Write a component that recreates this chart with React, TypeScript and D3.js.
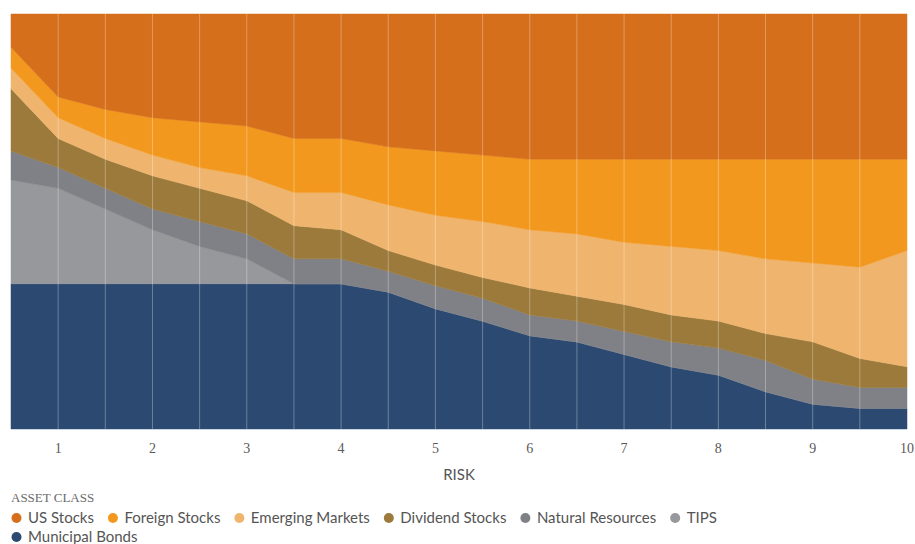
import React from "react";
import * as d3 from "d3";

const risk = [0.5, 1, 1.5, 2, 2.5, 3, 3.5, 4, 4.5, 5, 5.5, 6, 6.5, 7, 7.5, 8, 8.5, 9, 9.5, 10];
const tickValues = [1, 2, 3, 4, 5, 6, 7, 8, 9, 10];

const municipalBonds = [35, 35, 35, 35, 35, 35, 35, 35, 33, 29, 26, 22.5, 21, 18, 15, 13, 9, 6, 5, 5];
const tips = [25, 23, 18, 13, 9, 6, 0, 0, 0, 0, 0, 0, 0, 0, 0, 0, 0, 0, 0, 0];
const naturalResources = [7, 5, 5, 5, 6, 6, 6, 6, 5, 5.5, 5.5, 5, 5, 5.5, 6, 6.5, 7.5, 6, 5, 5];
const dividendStocks = [15, 7, 7, 8, 8, 8, 8, 7, 5, 5, 5, 6.5, 6, 6.5, 6.5, 6.5, 6.5, 9, 7, 5];
const emergingMarkets = [5, 5, 5, 5, 5, 6, 8, 9, 11, 12, 13.5, 14, 15, 15, 16.5, 17, 18, 19, 22, 28];
const foreignStocks = [5, 5, 7, 9, 11, 12, 13, 13, 14, 15.5, 16, 17, 18, 20, 21, 22, 24, 25, 26, 22];
const usStocks = [8, 20, 23, 25, 26, 27, 30, 30, 32, 33, 34, 35, 35, 35, 35, 35, 35, 35, 35, 35];

// bottom-up stacking order
const seriesNames = [
  "Municipal Bonds",
  "TIPS",
  "Natural Resources",
  "Dividend Stocks",
  "Emerging Markets",
  "Foreign Stocks",
  "US Stocks",
];
const seriesValues = [municipalBonds, tips, naturalResources, dividendStocks, emergingMarkets, foreignStocks, usStocks];
const seriesColors = ["#2C4A71", "#97989C", "#7F8186", "#9C7A3B", "#EFB56E", "#F3981F", "#D56F1B"];

// legend order
const legendOrder = [
  "US Stocks",
  "Foreign Stocks",
  "Emerging Markets",
  "Dividend Stocks",
  "Natural Resources",
  "TIPS",
  "Municipal Bonds",
];

const W = 915;
const H = 544;
const M = { left: 11, right: 8, top: 14, bottom: 115 };

const LEGEND_FONT = "15px Lato";
function measure(text: string, font: string) {
  if (typeof document === "undefined") return text.length * 7;
  const c = document.createElement("canvas");
  const ctx = c.getContext("2d");
  if (!ctx) return text.length * 7;
  ctx.font = font;
  return ctx.measureText(text).width;
}

export default function App() {
  const x = d3.scaleLinear().domain([0.5, 10]).range([M.left, W - M.right]);
  const y = d3.scaleLinear().domain([0, 100]).range([H - M.bottom, M.top]);

  const table = risk.map((r, i) => {
    const row: any = { risk: r };
    seriesNames.forEach((n, k) => (row[n] = seriesValues[k][i]));
    return row;
  });
  const stacked = d3.stack<any>().keys(seriesNames)(table);
  const area = d3
    .area<any>()
    .x((d) => x(d.data.risk))
    .y0((d) => y(d[0]))
    .y1((d) => y(d[1]))
    .curve(d3.curveLinear);

  const gridVals = d3.range(1, 10, 0.5);

  // legend flow layout
  const legendItems: { name: string; color: string; cx: number; row: number }[] = [];
  let cx = 16.5;
  let row = 0;
  const maxX = 760;
  legendOrder.forEach((name) => {
    const w = measure(name, LEGEND_FONT);
    if (cx + 11 + w > maxX) {
      row += 1;
      cx = 16.5;
    }
    legendItems.push({ name, color: seriesColors[seriesNames.indexOf(name)], cx, row });
    cx += 11.5 + w + 19;
  });

  return (
    <svg width={W} height={H} style={{ position: "absolute", left: 0, top: 0, background: "#fff" }}>
      <g>
        {stacked.map((s, i) => (
          <path key={s.key} d={area(s) || ""} fill={seriesColors[i]} stroke={seriesColors[i]} strokeWidth={0.5} />
        ))}
      </g>
      <g>
        {gridVals.map((v) => (
          <line
            key={v}
            x1={x(v)}
            x2={x(v)}
            y1={y(100)}
            y2={y(0)}
            stroke="#ffffff"
            strokeOpacity={0.3}
            strokeWidth={1}
          />
        ))}
        <line x1={x(0.5)} x2={x(10)} y1={y(0) + 0.5} y2={y(0) + 0.5} stroke="#c5d5e6" strokeWidth={1} />
      </g>
      <g fontFamily="'Liberation Serif', serif" fontSize={14} fill="#5a5a5a" textAnchor="middle">
        {tickValues.map((t) => (
          <text key={t} x={x(t)} y={453}>
            {t}
          </text>
        ))}
      </g>
      <text x={(x(0.5) + x(10)) / 2} y={480} textAnchor="middle" fontFamily="Lato, sans-serif" fontSize={15} fill="#555">
        RISK
      </text>
      <text x={11} y={502} fontFamily="'Liberation Serif', serif" fontSize={13} fill="#6a6a6a">
        ASSET CLASS
      </text>
      <g fontFamily="Lato, sans-serif" fontSize={15} fill="#555">
        {legendItems.map((it) => (
          <g key={it.name} transform={`translate(${it.cx},${518 + it.row * 19})`}>
            <circle r={5} cx={0} cy={0} fill={it.color} />
            <text x={11.5} y={5}>
              {it.name}
            </text>
          </g>
        ))}
      </g>
    </svg>
  );
}
